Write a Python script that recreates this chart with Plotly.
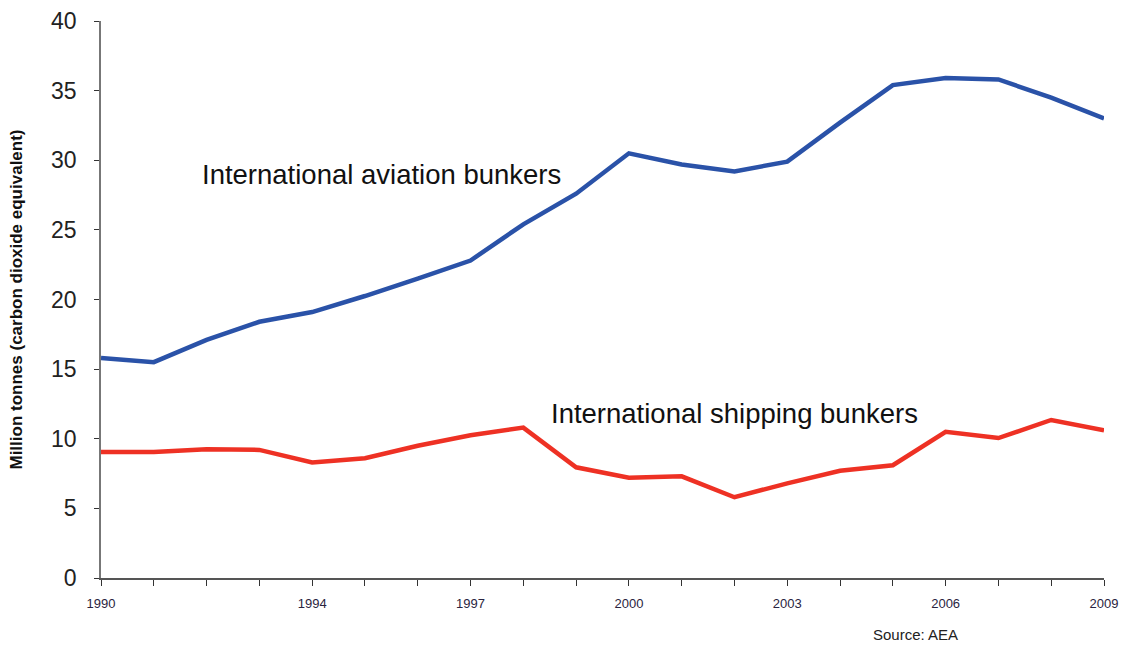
import plotly.graph_objects as go

years = list(range(1990, 2010))
aviation = [15.8, 15.5, 17.1, 18.4, 19.1, 20.25, 21.5, 22.8, 25.4, 27.6,
            30.5, 29.7, 29.2, 29.9, 32.7, 35.4, 35.9, 35.8, 34.5, 33.0]
shipping = [9.05, 9.05, 9.25, 9.2, 8.3, 8.6, 9.5, 10.25, 10.8, 7.95,
            7.2, 7.3, 5.8, 6.8, 7.7, 8.1, 10.5, 10.05, 11.35, 10.6]
x_tick_labels = [1990, 1994, 1997, 2000, 2003, 2006, 2009]
y_ticks = [0, 5, 10, 15, 20, 25, 30, 35, 40]

fig = go.Figure()
fig.add_trace(go.Scatter(x=years, y=aviation, mode="lines",
                         line=dict(color="#2A52A8", width=4.5), name="International aviation bunkers"))
fig.add_trace(go.Scatter(x=years, y=shipping, mode="lines",
                         line=dict(color="#EE3124", width=4.5), name="International shipping bunkers"))

fig.update_layout(
    width=1126, height=645,
    margin=dict(l=101, r=22, t=21, b=67),
    paper_bgcolor="white", plot_bgcolor="white",
    showlegend=False,
    font=dict(family="Liberation Sans, Arial, sans-serif", color="#222"),
    xaxis=dict(
        range=[1990, 2009], tickvals=x_tick_labels, ticktext=[str(v) for v in x_tick_labels],
        automargin=False,
        showgrid=False, zeroline=False, showline=True, linecolor="#555", linewidth=1.5,
        ticks="outside", ticklen=6, tickcolor="#333", tickwidth=1.2,
        tickfont=dict(size=13, color="#2a2440"), ticklabelstandoff=7,
        minor=dict(dtick=1, tick0=1990, ticks="outside", ticklen=6, tickcolor="#333", tickwidth=1.2, showgrid=False),
    ),
    yaxis=dict(
        range=[0, 40], tickvals=y_ticks,
        automargin=False,
        showgrid=False, zeroline=False, showline=True, linecolor="#777", linewidth=1.5,
        ticks="outside", ticklen=5, tickcolor="#333",
        tickfont=dict(size=23, color="#222"), ticklabelstandoff=13,
        title=dict(text="<b>Million tonnes (carbon dioxide equivalent)</b>",
                   font=dict(size=17, color="#111"), standoff=24),
    ),
)

fig.add_annotation(text="International aviation bunkers", x=1991.87, y=29.0, xref="x", yref="y",
                   showarrow=False, font=dict(size=27.5, color="#111"), xanchor="left", yanchor="middle")
fig.add_annotation(text="International shipping bunkers", x=1998.48, y=11.8, xref="x", yref="y",
                   showarrow=False, font=dict(size=27.5, color="#111"), xanchor="left", yanchor="middle")
fig.add_annotation(text="Source: AEA", x=0.768, y=-0.102, xref="paper", yref="paper",
                   showarrow=False, font=dict(size=15, color="#222"), xanchor="left", yanchor="middle")

fig.write_html("out.html")
